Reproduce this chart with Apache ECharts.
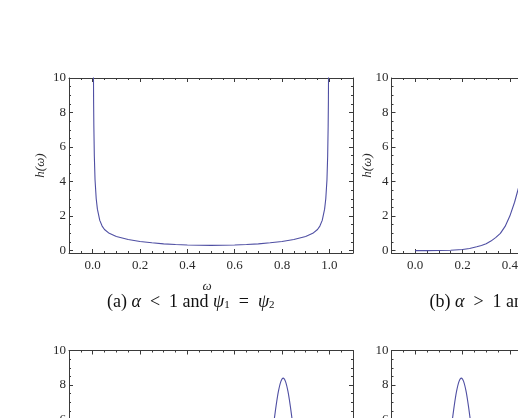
<!DOCTYPE html>
<html><head><meta charset="utf-8">
<script src="https://cdn.jsdelivr.net/npm/echarts@6/dist/echarts.min.js"></script>
<style>html,body{margin:0;padding:0;background:#fff;overflow:hidden;width:518px;height:418px}#c{width:880px;height:720px}</style>
</head><body><div id="c"></div>
<script>
// tick labels
const xTickLabels = [0, 0.2, 0.4, 0.6, 0.8, 1.0];
const xMinorTicks = [-0.05, 0.05, 0.1, 0.15, 0.25, 0.3, 0.35, 0.45, 0.5, 0.55, 0.65, 0.7, 0.75, 0.85, 0.9, 0.95, 1.05];
const yTickLabels = [0, 2, 4, 6, 8, 10];
const yMinorTicks = [0.5, 1, 1.5, 2.5, 3, 3.5, 4.5, 5, 5.5, 6.5, 7, 7.5, 8.5, 9, 9.5];

// panel (a): alpha < 1, psi1 = psi2
const omegaA = [0.003, 0.004, 0.005, 0.007, 0.01, 0.015, 0.02, 0.03, 0.04, 0.05, 0.07, 0.1, 0.15, 0.2, 0.25, 0.3, 0.35, 0.4, 0.45, 0.5, 0.55, 0.6, 0.65, 0.7, 0.75, 0.8, 0.85, 0.9, 0.93, 0.95, 0.96, 0.97, 0.98, 0.985, 0.99, 0.993, 0.995, 0.996, 0.997];
const hA = [11, 8.6, 7.2, 5.5, 4.1, 3.0, 2.4, 1.75, 1.42, 1.22, 1.0, 0.82, 0.64, 0.53, 0.45, 0.39, 0.35, 0.32, 0.305, 0.30, 0.305, 0.32, 0.35, 0.39, 0.45, 0.53, 0.64, 0.82, 1.0, 1.22, 1.42, 1.75, 2.4, 3.0, 4.1, 5.5, 7.2, 8.6, 11];

// panel (b): alpha > 1
const omegaB = [0, 0.05, 0.1, 0.15, 0.2, 0.23, 0.26, 0.28, 0.3, 0.32, 0.34, 0.36, 0.38, 0.4, 0.42, 0.44, 0.46, 0.48, 0.5, 0.52];
const hB = [0, 0, 0.005, 0.02, 0.06, 0.12, 0.22, 0.3, 0.4, 0.55, 0.75, 1.0, 1.4, 2.0, 2.8, 3.8, 5.0, 6.5, 8.3, 10.5];

// panel (c)
const omegaC = [0, 0.5, 0.6, 0.645, 0.675, 0.705, 0.725, 0.745, 0.755, 0.765, 0.775, 0.785, 0.795, 0.805, 0.815, 0.825, 0.835, 0.845, 0.855, 0.865, 0.885, 0.905, 0.935, 0.965, 1.0];
const hC = [0, 0, 0, 0.02, 0.16, 0.79, 1.85, 3.59, 4.65, 5.76, 6.79, 7.64, 8.2, 8.4, 8.2, 7.64, 6.79, 5.76, 4.65, 3.59, 1.85, 0.79, 0.16, 0.02, 0];

// panel (d)
const omegaD = [0, 0.035, 0.065, 0.095, 0.115, 0.135, 0.145, 0.155, 0.165, 0.175, 0.185, 0.195, 0.205, 0.215, 0.225, 0.235, 0.245, 0.255, 0.275, 0.295, 0.325, 0.355, 0.4, 0.5, 1.0];
const hD = [0, 0.02, 0.16, 0.79, 1.85, 3.59, 4.65, 5.76, 6.79, 7.64, 8.2, 8.4, 8.2, 7.64, 6.79, 5.76, 4.65, 3.59, 1.85, 0.79, 0.16, 0.02, 0, 0, 0];

const FRAME = '#3a3a3a';
const LINE = '#4f4fa3';
const SERIF = '"Liberation Serif","DejaVu Serif",serif';

const panels = [
  {left: 69, top: 78, w: omegaA, h: hA, smooth: false},
  {left: 391.5, top: 78, w: omegaB, h: hB, smooth: false},
  {left: 69, top: 350.5, w: omegaC, h: hC, smooth: true},
  {left: 391.5, top: 350.5, w: omegaD, h: hD, smooth: true}
];
const PW = 284, PH = 175;

const grid = [], xAxis = [], yAxis = [], series = [], graphic = [];
panels.forEach((p, i) => {
  grid.push({left: p.left, top: p.top, width: PW, height: PH, containLabel: false});
  const tickStyle = {color: FRAME, width: 1};
  const mkX = (pos, ticks, len, labels, line) => ({
    gridIndex: i, type: 'value', min: -0.1, max: 1.1, position: pos,
    axisLine: {show: line, onZero: false, lineStyle: {color: FRAME, width: 1}},
    axisTick: {show: true, inside: true, length: len, customValues: ticks, lineStyle: tickStyle},
    axisLabel: labels ? {show: true, customValues: xTickLabels, formatter: v => v.toFixed(1), margin: 6,
      fontFamily: SERIF, fontSize: 13, color: '#2a2a2a'} : {show: false},
    splitLine: {show: false}
  });
  const mkY = (pos, ticks, len, labels, line) => ({
    gridIndex: i, type: 'value', min: -0.14, max: 10, position: pos,
    axisLine: {show: line, onZero: false, lineStyle: {color: FRAME, width: 1}},
    axisTick: {show: true, inside: true, length: len, customValues: ticks, lineStyle: tickStyle},
    axisLabel: labels ? {show: true, customValues: yTickLabels, formatter: v => String(v), margin: 3,
      fontFamily: SERIF, fontSize: 13, color: '#2a2a2a'} : {show: false},
    splitLine: {show: false}
  });
  const xi = xAxis.length, yi = yAxis.length;
  xAxis.push(mkX('bottom', xTickLabels, 4, true, true));
  xAxis.push(mkX('bottom', xMinorTicks, 2, false, false));
  xAxis.push(mkX('top', xTickLabels, 4, false, true));
  xAxis.push(mkX('top', xMinorTicks, 2, false, false));
  yAxis.push(mkY('left', yTickLabels, 4, true, true));
  yAxis.push(mkY('left', yMinorTicks, 2, false, false));
  yAxis.push(mkY('right', yTickLabels, 4, false, true));
  yAxis.push(mkY('right', yMinorTicks, 2, false, false));
  series.push({
    type: 'line', xAxisIndex: xi, yAxisIndex: yi, showSymbol: false, smooth: p.smooth ? 0.3 : false,
    clip: true, lineStyle: {color: LINE, width: 1.1}, animation: false,
    data: p.w.map((w, k) => [w, p.h[k]])
  });
  // y-axis name
  graphic.push({type: 'text', x: p.left - 28 + (i % 2 === 1 ? 4 : 0), y: p.top + PH / 2, rotation: Math.PI / 2,
    style: {text: 'h(ω)', font: 'italic 13px ' + SERIF, fill: '#2a2a2a', textAlign: 'center', textVerticalAlign: 'middle'}});
  // x-axis name
  graphic.push({type: 'text', x: p.left + 138, y: p.top + 209,
    style: {text: 'ω', font: 'italic 13px ' + SERIF, fill: '#2a2a2a', textAlign: 'center', textVerticalAlign: 'middle'}});
});

const rich = {
  i: {fontFamily: SERIF, fontStyle: 'italic', fontSize: 18, fill: '#111'},
  s: {fontFamily: SERIF, fontSize: 11, verticalAlign: 'bottom', fill: '#111'}
};
graphic.push({type: 'text', x: 107, y: 302,
  style: {text: '(a) {i|α}  <  1 and {i|ψ}{s|1}  =  {i|ψ}{s|2}', font: '18px ' + SERIF, fill: '#111',
    textAlign: 'left', textVerticalAlign: 'middle', rich}});
graphic.push({type: 'text', x: 429.5, y: 302,
  style: {text: '(b) {i|α}  >  1 and {i|ψ}{s|1}  =  {i|ψ}{s|2}', font: '18px ' + SERIF, fill: '#111',
    textAlign: 'left', textVerticalAlign: 'middle', rich}});

const chart = echarts.init(document.getElementById('c'), null, {renderer: 'canvas'});
chart.setOption({animation: false, grid, xAxis, yAxis, series, graphic});
</script>
</body></html>
